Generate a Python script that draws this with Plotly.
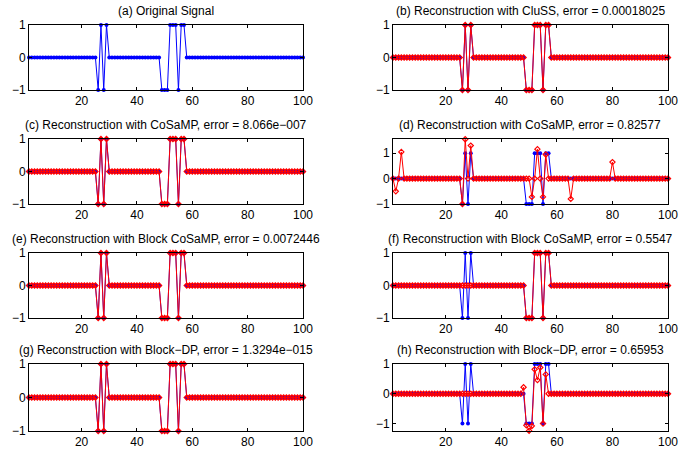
import plotly.graph_objects as go

# sample index
n_index = list(range(1, 101))

# (a) original signal
original_signal = [
    0, 0, 0, 0, 0, 0, 0, 0, 0, 0, 0, 0, 0, 0, 0, 0, 0, 0, 0, 0,
    0, 0, 0, 0, 0, -1, 1, -1, 1, 0, 0, 0, 0, 0, 0, 0, 0, 0, 0, 0,
    0, 0, 0, 0, 0, 0, 0, 0, -1, -1, -1, 1, 1, 1, -1, 1, 1, 0, 0, 0,
    0, 0, 0, 0, 0, 0, 0, 0, 0, 0, 0, 0, 0, 0, 0, 0, 0, 0, 0, 0,
    0, 0, 0, 0, 0, 0, 0, 0, 0, 0, 0, 0, 0, 0, 0, 0, 0, 0, 0, 0,
]

# (b) CluSS reconstruction
rec_cluss = [
    0, 0, 0, 0, 0, 0, 0, 0, 0, 0, 0, 0, 0, 0, 0, 0, 0, 0, 0, 0,
    0, 0, 0, 0, 0, -1, 1, -1, 1, 0, 0, 0, 0, 0, 0, 0, 0, 0, 0, 0,
    0, 0, 0, 0, 0, 0, 0, 0, -1, -1, -1, 1, 1, 1, -1, 1, 1, 0, 0, 0,
    0, 0, 0, 0, 0, 0, 0, 0, 0, 0, 0, 0, 0, 0, 0, 0, 0, 0, 0, 0,
    0, 0, 0, 0, 0, 0, 0, 0, 0, 0, 0, 0, 0, 0, 0, 0, 0, 0, 0, 0,
]

# (c) CoSaMP reconstruction (good)
rec_cosamp_c = [
    0, 0, 0, 0, 0, 0, 0, 0, 0, 0, 0, 0, 0, 0, 0, 0, 0, 0, 0, 0,
    0, 0, 0, 0, 0, -1, 1, -1, 1, 0, 0, 0, 0, 0, 0, 0, 0, 0, 0, 0,
    0, 0, 0, 0, 0, 0, 0, 0, -1, -1, -1, 1, 1, 1, -1, 1, 1, 0, 0, 0,
    0, 0, 0, 0, 0, 0, 0, 0, 0, 0, 0, 0, 0, 0, 0, 0, 0, 0, 0, 0,
    0, 0, 0, 0, 0, 0, 0, 0, 0, 0, 0, 0, 0, 0, 0, 0, 0, 0, 0, 0,
]

# (d) CoSaMP reconstruction (poor)
rec_cosamp_d = [
    0, -0.5, 0, 1.05, 0, 0, 0, 0, 0, 0, 0, 0, 0, 0, 0, 0, 0, 0, 0, 0,
    0, 0, 0, 0, 0, -1, 1.55, 0, 1.3, 0, 0, 0, 0, 0, 0, 0, 0, 0, 0, 0,
    0, 0, 0, 0, 0, 0, 0, 0, 0, 0, -0.72, 0, 1.16, 0, -0.72, 0.95, 0, 0, 0, 0,
    0, 0, 0, 0, -0.8, 0, 0, 0, 0, 0, 0, 0, 0, 0, 0, 0, 0, 0, 0, 0.65,
    0, 0, 0, 0, 0, 0, 0, 0, 0, 0, 0, 0, 0, 0, 0, 0, 0, 0, 0, 0,
]

# (e) Block CoSaMP reconstruction (good)
rec_bcosamp_e = [
    0, 0, 0, 0, 0, 0, 0, 0, 0, 0, 0, 0, 0, 0, 0, 0, 0, 0, 0, 0,
    0, 0, 0, 0, 0, -1, 1, -1, 1, 0, 0, 0, 0, 0, 0, 0, 0, 0, 0, 0,
    0, 0, 0, 0, 0, 0, 0, 0, -1, -1, -1, 1, 1, 1, -1, 1, 1, 0, 0, 0,
    0, 0, 0, 0, 0, 0, 0, 0, 0, 0, 0, 0, 0, 0, 0, 0, 0, 0, 0, 0,
    0, 0, 0, 0, 0, 0, 0, 0, 0, 0, 0, 0, 0, 0, 0, 0, 0, 0, 0, 0,
]

# (f) Block CoSaMP reconstruction (misses first block)
rec_bcosamp_f = [
    0, 0, 0, 0, 0, 0, 0, 0, 0, 0, 0, 0, 0, 0, 0, 0, 0, 0, 0, 0,
    0, 0, 0, 0, 0, 0, 0, 0, 0, 0, 0, 0, 0, 0, 0, 0, 0, 0, 0, 0,
    0, 0, 0, 0, 0, 0, 0, 0, -1, -1, -1, 1, 1, 1, -1, 1, 1, 0, 0, 0,
    0, 0, 0, 0, 0, 0, 0, 0, 0, 0, 0, 0, 0, 0, 0, 0, 0, 0, 0, 0,
    0, 0, 0, 0, 0, 0, 0, 0, 0, 0, 0, 0, 0, 0, 0, 0, 0, 0, 0, 0,
]

# (g) Block-DP reconstruction (good)
rec_bdp_g = [
    0, 0, 0, 0, 0, 0, 0, 0, 0, 0, 0, 0, 0, 0, 0, 0, 0, 0, 0, 0,
    0, 0, 0, 0, 0, -1, 1, -1, 1, 0, 0, 0, 0, 0, 0, 0, 0, 0, 0, 0,
    0, 0, 0, 0, 0, 0, 0, 0, -1, -1, -1, 1, 1, 1, -1, 1, 1, 0, 0, 0,
    0, 0, 0, 0, 0, 0, 0, 0, 0, 0, 0, 0, 0, 0, 0, 0, 0, 0, 0, 0,
    0, 0, 0, 0, 0, 0, 0, 0, 0, 0, 0, 0, 0, 0, 0, 0, 0, 0, 0, 0,
]

# (h) Block-DP reconstruction (poor)
rec_bdp_h = [
    0, 0, 0, 0, 0, 0, 0, 0, 0, 0, 0, 0, 0, 0, 0, 0, 0, 0, 0, 0,
    0, 0, 0, 0, 0, 0, 0, 0, 0, 0, 0, 0, 0, 0, 0, 0, 0, 0, 0, 0,
    0, 0, 0, 0, 0, 0, 0, 0.22, -1.06, -1.24, -1.08, 0.82, 0.46, 0.88, -1.0, 0.65, 0, 0, 0, 0,
    0, 0, 0, 0, 0, 0, 0, 0, 0, 0, 0, 0, 0, 0, 0, 0, 0, 0, 0, 0,
    0, 0, 0, 0, 0, 0, 0, 0, 0, 0, 0, 0, 0, 0, 0, 0, 0, 0, 0, 0,
]

panel_titles = [
    "(a) Original Signal",
    "(b) Reconstruction with CluSS, error = 0.00018025",
    "(c) Reconstruction with CoSaMP, error = 8.066e\u2212007",
    "(d) Reconstruction with CoSaMP, error = 0.82577",
    "(e) Reconstruction with Block CoSaMP, error = 0.0072446",
    "(f) Reconstruction with Block CoSaMP, error = 0.5547",
    "(g) Reconstruction with Block\u2212DP, error = 1.3294e\u2212015",
    "(h) Reconstruction with Block\u2212DP, error = 0.65953",
]
panel_recs = [None, rec_cluss, rec_cosamp_c, rec_cosamp_d,
              rec_bcosamp_e, rec_bcosamp_f, rec_bdp_g, rec_bdp_h]
panel_yranges = [[-1, 1], [-1, 1], [-1, 1], [-1, 1.56],
                 [-1, 1], [-1, 1], [-1, 1], [-1.25, 1]]
x_ticks = [20, 40, 60, 80, 100]
y_ticks = [-1, 0, 1]

W, H = 680, 449
col_px = [(29, 303), (393, 668)]
row_px = [(25, 90), (139, 204), (253, 318), (364, 431)]

BLUE = "rgb(0,0,255)"
RED = "rgb(255,0,0)"
FONT = "Liberation Sans, Arial, Helvetica, sans-serif"

fig = go.Figure()
layout = dict(
    template="none",
    width=W, height=H, autosize=False,
    margin=dict(l=0, r=0, t=0, b=0, pad=0, autoexpand=False),
    paper_bgcolor="white", plot_bgcolor="white",
    showlegend=False,
    font=dict(family=FONT, size=12, color="black"),
    annotations=[],
)

for i in range(8):
    r, c = divmod(i, 2)
    ax = "" if i == 0 else str(i + 1)
    xd = [col_px[c][0] / W, col_px[c][1] / W]
    yd = [1 - row_px[r][1] / H, 1 - row_px[r][0] / H]
    fig.add_trace(go.Scatter(
        x=n_index, y=original_signal, mode="lines+markers",
        line=dict(color=BLUE, width=1),
        marker=dict(symbol="circle", size=4, color=BLUE),
        xaxis="x" + ax, yaxis="y" + ax, cliponaxis=False,
    ))
    if panel_recs[i] is not None:
        fig.add_trace(go.Scatter(
            x=n_index, y=panel_recs[i], mode="lines+markers",
            line=dict(color=RED, width=1),
            marker=dict(symbol="diamond-open", size=4, color=RED,
                        line=dict(color=RED, width=1.2)),
            xaxis="x" + ax, yaxis="y" + ax, cliponaxis=False,
        ))
    common = dict(showgrid=False, zeroline=False, showline=True,
                  linecolor="black", linewidth=1, mirror="allticks",
                  ticks="inside", ticklen=3, tickcolor="black", tickwidth=1,
                  automargin=False,
                  tickfont=dict(family=FONT, size=12, color="black"))
    layout["xaxis" + ax] = dict(domain=xd, range=[1, 100], tickvals=x_ticks,
                                anchor="y" + ax, **common)
    layout["yaxis" + ax] = dict(domain=yd, range=panel_yranges[i],
                                tickvals=y_ticks, ticktext=["\u22121", "0", "1"],
                                anchor="x" + ax, **common)
    layout["annotations"].append(dict(
        text=panel_titles[i], xref="paper", yref="paper",
        x=(xd[0] + xd[1]) / 2, y=yd[1], xanchor="center", yanchor="bottom",
        yshift=5, showarrow=False,
        font=dict(family=FONT, size=12, color="black"),
    ))

fig.update_layout(**layout)
fig.write_html("out.html",
               config={"displayModeBar": False},
               post_script="document.body.style.margin='0';document.body.style.overflow='hidden';")
